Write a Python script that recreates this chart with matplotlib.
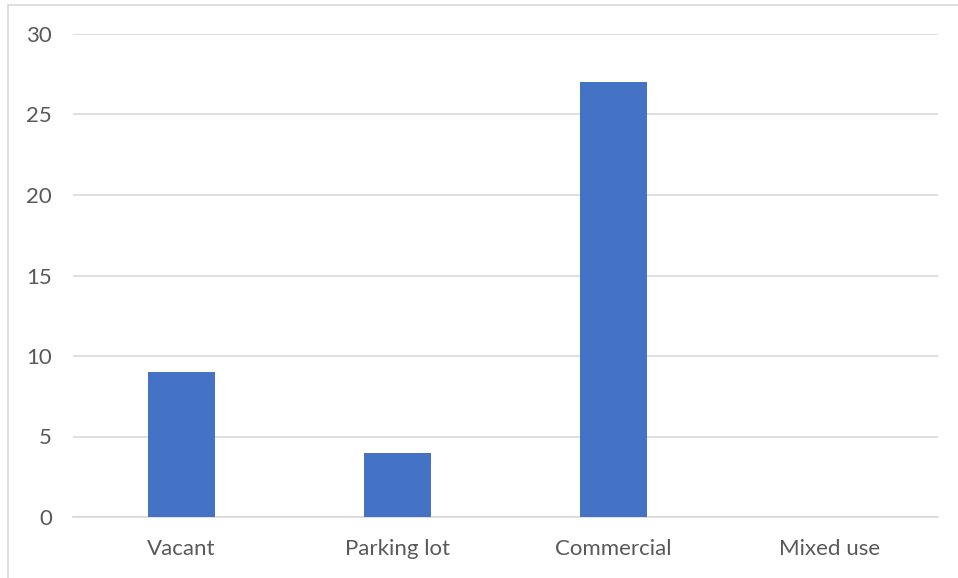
import matplotlib

matplotlib.use("Agg")
import matplotlib.pyplot as plt
from matplotlib.patches import Rectangle

categories = ["Vacant", "Parking lot", "Commercial", "Mixed use"]
counts = [9, 4, 27, 0]
y_ticks = [0, 5, 10, 15, 20, 25, 30]

BAR_COLOR = "#4472c4"
GRID_COLOR = "#d9d9d9"
TEXT_COLOR = "#595959"

plt.rcParams["font.family"] = ["Lato", "DejaVu Sans"]

fig = plt.figure(figsize=(9.58, 5.78), dpi=100)
ax = fig.add_axes([73 / 958, 1 - 517 / 578, 865 / 958, 483 / 578])

x = list(range(len(categories)))
ax.bar(x, counts, width=0.31, color=BAR_COLOR, zorder=3)

ax.set_xlim(-0.5, len(categories) - 0.5)
ax.set_ylim(0, 30)
ax.set_yticks(y_ticks)
ax.set_xticks(x)
ax.set_xticklabels(categories)
ax.tick_params(axis="both", length=0, labelsize=16, labelcolor=TEXT_COLOR)
ax.tick_params(axis="y", pad=15)
ax.tick_params(axis="x", pad=16)

ax.grid(axis="y", color=GRID_COLOR, linewidth=1.2, zorder=0)
for side in ("top", "right", "left"):
    ax.spines[side].set_visible(False)
ax.spines["bottom"].set_color(GRID_COLOR)
ax.spines["bottom"].set_linewidth(1.2)

# chart-area border (cropped at right and bottom in the reference)
fig.patches.append(
    Rectangle((8 / 958, -0.1), 1.2, 1.1 - 5 / 578, transform=fig.transFigure,
              fill=False, edgecolor=GRID_COLOR, linewidth=1.2)
)

fig.savefig("out.png", dpi=100)
